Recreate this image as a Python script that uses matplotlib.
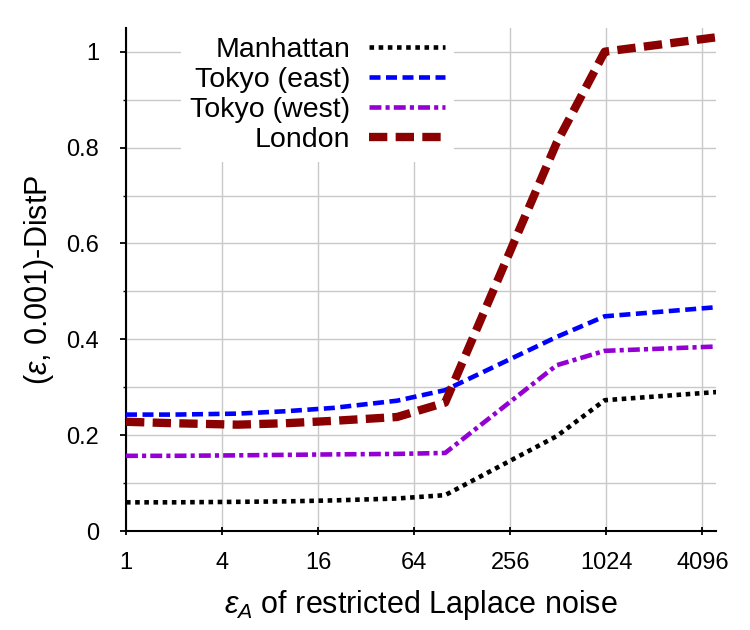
import matplotlib
matplotlib.use("Agg")
import matplotlib.pyplot as plt
from matplotlib.ticker import FixedLocator, NullFormatter

plt.rcParams['font.family'] = ['Liberation Sans', 'DejaVu Sans']
plt.rcParams['mathtext.fontset'] = 'custom'
plt.rcParams['mathtext.it'] = 'Liberation Sans:italic'
plt.rcParams['mathtext.rm'] = 'Liberation Sans'

eps_a = [1, 2, 5, 10, 20, 50, 100, 500, 1000, 5000]
manhattan = [0.060, 0.060, 0.061, 0.062, 0.064, 0.068, 0.075, 0.198, 0.273, 0.290]
tokyo_east = [0.243, 0.243, 0.245, 0.250, 0.257, 0.272, 0.294, 0.405, 0.448, 0.467]
tokyo_west = [0.157, 0.157, 0.158, 0.159, 0.160, 0.161, 0.163, 0.346, 0.376, 0.385]
london = [0.228, 0.225, 0.222, 0.225, 0.230, 0.238, 0.268, 0.810, 1.000, 1.030]

xticks = [1, 4, 16, 64, 256, 1024, 4096]
xtick_labels = ["1", "4", "16", "64", "256", "1024", "4096"]
yticks = [0, 0.2, 0.4, 0.6, 0.8, 1.0]
ytick_labels = ["0", "0.2", "0.4", "0.6", "0.8", "1"]

fig = plt.figure(figsize=(7.5, 6.3), dpi=100)
ax = fig.add_axes([0.168, 0.157, 0.787, 0.799])

ax.plot(eps_a, manhattan, color='black', lw=3.3, linestyle=(0, (1.0, 1.0)),
        dash_capstyle='butt', label='Manhattan', zorder=3)
ax.plot(eps_a, tokyo_east, color='#0000ff', lw=3.3, linestyle=(0, (2.4, 1.2)),
        dash_capstyle='butt', label='Tokyo (east)', zorder=3)
ax.plot(eps_a, tokyo_west, color='#9400d3', lw=3.3, linestyle=(0, (2.6, 0.9, 0.9, 0.9)),
        dash_capstyle='butt', label='Tokyo (west)', zorder=3)
ax.plot(eps_a, london, color='#8b0000', lw=6.0, linestyle=(0, (2.2, 1.0)),
        dash_capstyle='butt', label='London', zorder=3)

ax.set_xscale('log', base=2)
ax.set_xlim(1, 5000)
ax.set_ylim(0, 1.05)
ax.xaxis.set_major_locator(FixedLocator(xticks))
ax.set_xticklabels(xtick_labels)
ax.xaxis.set_minor_locator(FixedLocator([]))
ax.set_yticks(yticks)
ax.set_yticklabels(ytick_labels)
ax.yaxis.set_minor_locator(FixedLocator([0.1, 0.3, 0.5, 0.7, 0.9]))
ax.yaxis.set_minor_formatter(NullFormatter())

ax.grid(True, which='both', color='#c8c8c8', lw=1.0)
ax.set_axisbelow(True)
for s in ['top', 'right']:
    ax.spines[s].set_visible(False)
for s in ['left', 'bottom']:
    ax.spines[s].set_linewidth(1.5)

ax.tick_params(axis='x', which='major', direction='inout', length=6, width=1.3,
               labelsize=17, pad=12)
ax.tick_params(axis='y', which='major', direction='out', length=4.5, width=1.3,
               labelsize=17, pad=15)
ax.tick_params(axis='y', which='minor', direction='out', length=2.5, width=1.0)

ax.set_xlabel(r'$\varepsilon_A$ of restricted Laplace noise', fontsize=22)
ax.xaxis.set_label_coords(0.5, -0.113)
ax.set_ylabel(r'($\varepsilon$, 0.001)-DistP', fontsize=22)
ax.yaxis.set_label_coords(-0.119, 0.5)

leg = ax.legend(loc='upper right', bbox_to_anchor=(454 / 750, 1 - 28 / 630),
                bbox_transform=fig.transFigure, frameon=True,
                markerfirst=False, fontsize=20.5, handlelength=2.7,
                labelspacing=0.15, borderpad=0.3, handletextpad=0.65,
                borderaxespad=0.0)
leg.get_frame().set_edgecolor('none')
leg.get_frame().set_facecolor('white')
leg.get_frame().set_alpha(1.0)
for t in leg.get_texts():
    t.set_ha('right')
leg._legend_box.align = 'right'

fig.savefig('out.png', dpi=100)
